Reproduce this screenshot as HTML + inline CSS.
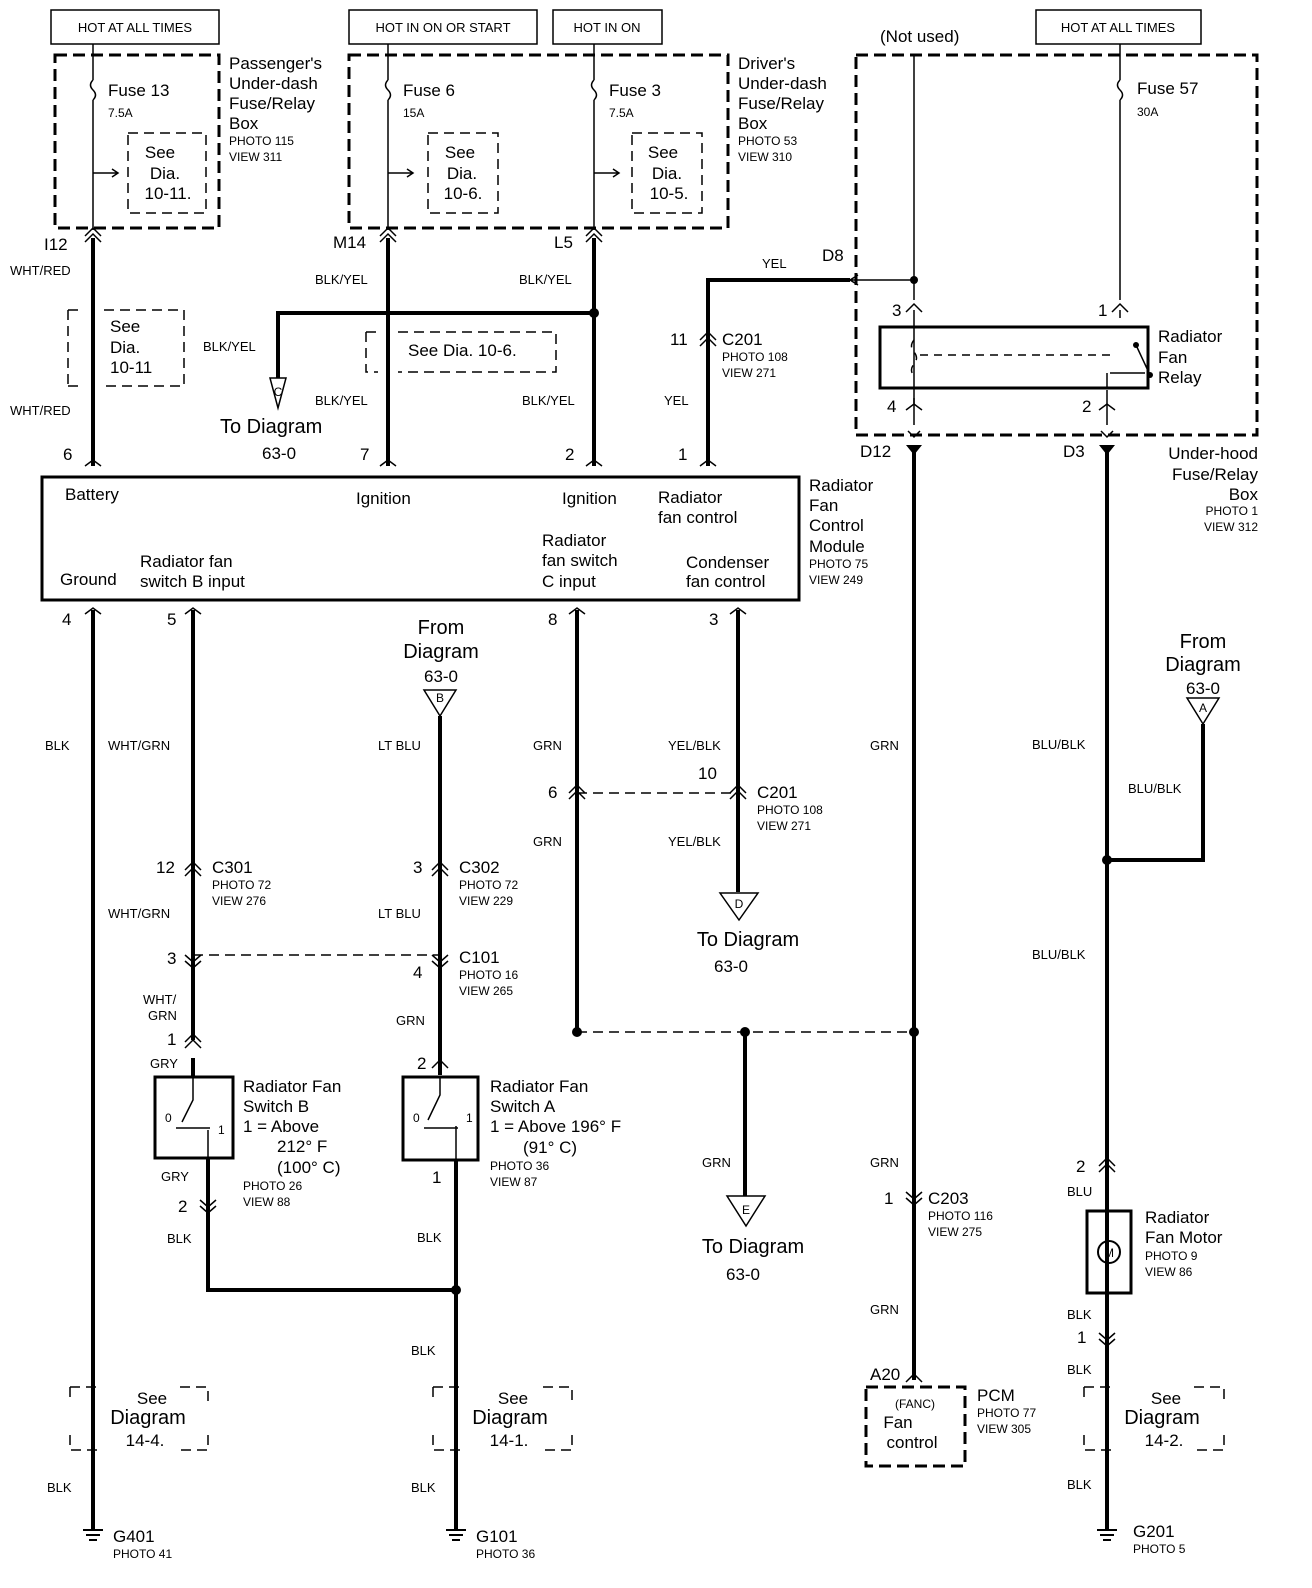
<!DOCTYPE html>
<html><head><meta charset="utf-8"><style>
html,body{margin:0;padding:0;background:#fff}
svg{display:block}
text{font-family:"Liberation Sans",sans-serif;fill:#000}
.s{font-size:13px}.xs{font-size:12px}.m{font-size:17px}.l{font-size:20px}
.w{stroke:#000;stroke-width:4;fill:none}
.t{stroke:#000;stroke-width:1.5;fill:none}
.d{stroke:#000;stroke-width:3;fill:none;stroke-dasharray:12,6}
.dt{stroke:#000;stroke-width:1.5;fill:none;stroke-dasharray:10,6}
</style></head><body>
<svg width="1312" height="1588" viewBox="0 0 1312 1588" xmlns="http://www.w3.org/2000/svg">
<!-- top labels -->
<rect x="51" y="10" width="168" height="34" class="t" stroke-width="2"/><text x="135" y="32" class="s" text-anchor="middle">HOT AT ALL TIMES</text>
<rect x="349" y="10" width="188" height="34" class="t" stroke-width="2"/><text x="443" y="32" class="s" text-anchor="middle">HOT IN ON OR START</text>
<rect x="553" y="10" width="109" height="34" class="t" stroke-width="2"/><text x="607" y="32" class="s" text-anchor="middle">HOT IN ON</text>
<rect x="1036" y="10" width="165" height="34" class="t" stroke-width="2"/><text x="1118" y="32" class="s" text-anchor="middle">HOT AT ALL TIMES</text>
<text x="880" y="42" class="m">(Not used)</text>

<!-- dashed boxes -->
<rect x="55" y="55" width="164" height="173" class="d"/>
<rect x="349" y="55" width="379" height="173" class="d"/>
<path d="M856 55 H1257 V435 H856 Z" class="d"/>

<!-- fuses -->
<g class="t">
<path d="M93 44 V80 M93 80 q-5 5 0 10 q5 5 0 10 M93 100 V230"/>
<path d="M388 44 V80 M388 80 q-5 5 0 10 q5 5 0 10 M388 100 V230"/>
<path d="M594 44 V80 M594 80 q-5 5 0 10 q5 5 0 10 M594 100 V230"/>
<path d="M1120 44 V80 M1120 80 q-5 5 0 10 q5 5 0 10 M1120 100 V300"/>
<path d="M914 55 V300"/>
<path d="M93 173 H118 M112 169 L118 173 L112 177 M388 173 H413 M407 169 L413 173 L407 177 M594 173 H619 M613 169 L619 173 L613 177"/>
</g>
<g class="m">
<text x="108" y="96">Fuse 13</text><text x="108" y="117" class="xs">7.5A</text>
<text x="403" y="96">Fuse 6</text><text x="403" y="117" class="xs">15A</text>
<text x="609" y="96">Fuse 3</text><text x="609" y="117" class="xs">7.5A</text>
<text x="1137" y="94">Fuse 57</text><text x="1137" y="116" class="xs">30A</text>
</g>
<g class="dt">
<rect x="128" y="133" width="78" height="80"/><rect x="428" y="133" width="70" height="80"/><rect x="632" y="133" width="70" height="80"/>
</g>
<g class="m" text-anchor="middle">
<text x="160" y="158">See</text><text x="165" y="179">Dia.</text><text x="168" y="199">10-11.</text>
<text x="460" y="158">See</text><text x="462" y="179">Dia.</text><text x="463" y="199">10-6.</text>
<text x="663" y="158">See</text><text x="667" y="179">Dia.</text><text x="669" y="199">10-5.</text>
</g>
<g class="m"><text x="229" y="69">Passenger's</text><text x="229" y="89">Under-dash</text><text x="229" y="109">Fuse/Relay</text><text x="229" y="129">Box</text></g>
<text x="229" y="145" class="xs">PHOTO 115</text><text x="229" y="161" class="xs">VIEW 311</text>
<g class="m"><text x="738" y="69">Driver's</text><text x="738" y="89">Under-dash</text><text x="738" y="109">Fuse/Relay</text><text x="738" y="129">Box</text></g>
<text x="738" y="145" class="xs">PHOTO 53</text><text x="738" y="161" class="xs">VIEW 310</text>

<!-- connectors at fuse box bottom -->
<g class="t" stroke-width="2">
<path d="M85 242 L93 234 L101 242 M85 236 L93 228 L101 236"/>
<path d="M380 242 L388 234 L396 242 M380 236 L388 228 L396 236"/>
<path d="M586 242 L594 234 L602 242 M586 236 L594 228 L602 236"/>
</g>
<text x="44" y="250" class="m">I12</text><text x="333" y="248" class="m">M14</text><text x="554" y="248" class="m">L5</text>

<!-- main wires top -->
<g class="w">
<path d="M93 238 V466"/><path d="M388 238 V466"/><path d="M594 238 V466"/>
<path d="M278 378 V313 H594"/><path d="M708 466 V280 H850"/>
<path d="M914 445 V1380"/><path d="M1107 445 V1530"/>
</g>
<circle cx="594" cy="313" r="5"/>
<path d="M85 466 L93 460 L101 466" class="t" stroke-width="2"/>
<path d="M380 466 L388 460 L396 466 M586 466 L594 460 L602 466 M700 466 L708 460 L716 466" class="t" stroke-width="2"/>
<path d="M700 346 L708 338 L716 346 M700 340 L708 332 L716 340" class="t" stroke-width="2"/>
<path d="M270 378 H286 L278 408 Z" class="t" stroke-width="2"/><text x="278" y="396" class="xs" text-anchor="middle">C</text>
<g class="s">
<text x="10" y="275">WHT/RED</text><text x="10" y="415">WHT/RED</text>
<text x="315" y="284">BLK/YEL</text><text x="519" y="284">BLK/YEL</text>
<text x="203" y="351">BLK/YEL</text><text x="315" y="405">BLK/YEL</text><text x="522" y="405">BLK/YEL</text>
<text x="762" y="268">YEL</text><text x="664" y="405">YEL</text>
</g>
<text x="822" y="261" class="m">D8</text>
<text x="670" y="345" class="m">11</text><text x="722" y="345" class="m">C201</text>
<text x="722" y="361" class="xs">PHOTO 108</text><text x="722" y="377" class="xs">VIEW 271</text>
<text x="220" y="433" class="l">To Diagram</text><text x="262" y="459" class="m">63-0</text>
<g class="dt">
<path d="M68 310 V386 M68 310 H82 M104 310 H184 V386 H104 M68 386 H82"/>
<path d="M366 332 V372 H378 M398 332 H556 V372 H398 M366 332 H378"/>
</g>
<g class="m"><text x="110" y="332">See</text><text x="110" y="353">Dia.</text><text x="110" y="373">10-11</text><text x="408" y="356">See Dia. 10-6.</text></g>

<!-- relay area -->
<g class="t">
<path d="M850 280 H914 M850 280 L858 275 M850 280 L858 285"/>
<path d="M906 312 L914 304 L922 312"/><path d="M1112 312 L1120 304 L1128 312"/>
<path d="M914 310 V425 M1107 390 V425 M1120 310 V318"/>
<path d="M906 410 L914 404 L922 410 M914 404 V398"/><path d="M1099 410 L1107 404 L1115 410"/>
<path d="M908 431 L914 437 L920 431 M1101 431 L1107 437 L1113 431"/>
<path d="M914 340 q-5 6 0 12 q5 6 0 12 q-5 6 0 12 M920 355 H1110" stroke-dasharray="8,6"/>
<path d="M1136 345 L1150 375 M1107 373 V388 M1110 373 H1145" />
</g>
<circle cx="914" cy="280" r="4"/><circle cx="1136" cy="345" r="3"/><circle cx="1150" cy="375" r="3"/>
<rect x="880" y="327" width="268" height="61" fill="none" stroke="#000" stroke-width="3"/>
<text x="892" y="316" class="m">3</text><text x="1098" y="316" class="m">1</text>
<text x="887" y="412" class="m">4</text><text x="1082" y="412" class="m">2</text>
<g class="m"><text x="1158" y="342">Radiator</text><text x="1158" y="363">Fan</text><text x="1158" y="383">Relay</text></g>
<path d="M906 445 H922 L914 455 Z M1099 445 H1115 L1107 455 Z"/>
<text x="860" y="457" class="m">D12</text><text x="1063" y="457" class="m">D3</text>
<g class="m" text-anchor="end"><text x="1258" y="459">Under-hood</text><text x="1258" y="480">Fuse/Relay</text><text x="1258" y="500">Box</text></g>
<text x="1258" y="515" class="xs" text-anchor="end">PHOTO 1</text><text x="1258" y="531" class="xs" text-anchor="end">VIEW 312</text>

<!-- module -->
<rect x="42" y="477" width="757" height="123" fill="none" stroke="#000" stroke-width="3"/>
<g class="m"><text x="63" y="460">6</text><text x="360" y="460">7</text><text x="565" y="460">2</text><text x="678" y="460">1</text>
<text x="65" y="500">Battery</text><text x="356" y="504">Ignition</text><text x="562" y="504">Ignition</text>
<text x="658" y="503">Radiator</text><text x="658" y="523">fan control</text>
<text x="542" y="546">Radiator</text><text x="542" y="566">fan switch</text><text x="542" y="587">C input</text>
<text x="686" y="568">Condenser</text><text x="686" y="587">fan control</text>
<text x="60" y="585">Ground</text><text x="140" y="567">Radiator fan</text><text x="140" y="587">switch B input</text>
<text x="809" y="491">Radiator</text><text x="809" y="511">Fan</text><text x="809" y="531">Control</text><text x="809" y="552">Module</text></g>
<text x="809" y="568" class="xs">PHOTO 75</text><text x="809" y="584" class="xs">VIEW 249</text>
<g class="m"><text x="62" y="625">4</text><text x="167" y="625">5</text><text x="548" y="625">8</text><text x="709" y="625">3</text></g>
<g class="t" stroke-width="2"><path d="M85 614 L93 608 L101 614 M185 614 L193 608 L201 614 M569 614 L577 608 L585 614 M730 614 L738 608 L746 614"/></g>

<!-- lower wires -->
<g class="w">
<path d="M93 610 V1530"/><path d="M193 610 V1040"/><path d="M193 1058 V1077"/>
<path d="M208 1158 V1290 H456"/><path d="M440 716 V1075"/><path d="M456 1160 V1530"/>
<path d="M577 610 V1032"/><path d="M738 610 V892"/><path d="M745 1032 V1196"/>
<path d="M1203 724 V860 H1107"/>
</g>
<circle cx="456" cy="1290" r="5"/><circle cx="1107" cy="860" r="5"/>
<circle cx="577" cy="1032" r="5"/><circle cx="745" cy="1032" r="5"/><circle cx="914" cy="1032" r="5"/>
<g class="dt"><path d="M577 1032 H914"/><path d="M577 793 H738"/><path d="M193 955 H440"/></g>

<!-- inline connectors -->
<g class="t" stroke-width="2">
<path d="M185 870 L193 862 L201 870 M185 876 L193 868 L201 876"/>
<path d="M432 870 L440 862 L448 870 M432 876 L440 868 L448 876"/>
<path d="M185 955 L193 962 L201 955 M185 961 L193 968 L201 961"/>
<path d="M432 955 L440 962 L448 955 M432 961 L440 968 L448 961"/>
<path d="M185 1042 L193 1034 L201 1042 M185 1048 L193 1040 L201 1048"/>
<path d="M432 1068 L440 1060 L448 1068"/>
<path d="M569 793 L577 785 L585 793 M569 799 L577 791 L585 799"/>
<path d="M730 793 L738 785 L746 793 M730 799 L738 791 L746 799"/>
<path d="M200 1200 L208 1207 L216 1200 M200 1206 L208 1213 L216 1206"/>
<path d="M906 1192 L914 1199 L922 1192 M906 1198 L914 1205 L922 1198"/>
<path d="M1099 1166 L1107 1158 L1115 1166 M1099 1172 L1107 1164 L1115 1172"/>
<path d="M1099 1333 L1107 1340 L1115 1333 M1099 1339 L1107 1346 L1115 1339"/>
<path d="M906 1382 L914 1374 L922 1382"/>
</g>

<!-- triangles -->
<g class="t" stroke-width="2">
<path d="M424 690 H456 L440 716 Z"/><path d="M1187 698 H1219 L1203 724 Z"/>
<path d="M720 893 H758 L739 920 Z"/><path d="M727 1196 H765 L746 1226 Z"/>
</g>
<g class="xs" text-anchor="middle"><text x="440" y="702">B</text><text x="1203" y="712">A</text><text x="739" y="908">D</text><text x="746" y="1214">E</text></g>
<g class="l" text-anchor="middle">
<text x="441" y="634">From</text><text x="441" y="658">Diagram</text><text x="441" y="682" class="m">63-0</text>
<text x="1203" y="648">From</text><text x="1203" y="671">Diagram</text><text x="1203" y="694" class="m">63-0</text>
<text x="748" y="946">To Diagram</text><text x="731" y="972" class="m">63-0</text>
<text x="753" y="1253">To Diagram</text><text x="743" y="1280" class="m">63-0</text>
</g>

<!-- wire colors lower -->
<g class="s">
<text x="45" y="750">BLK</text><text x="108" y="750">WHT/GRN</text><text x="378" y="750">LT BLU</text>
<text x="533" y="750">GRN</text><text x="668" y="750">YEL/BLK</text><text x="870" y="750">GRN</text>
<text x="1032" y="749">BLU/BLK</text><text x="1128" y="793">BLU/BLK</text>
<text x="533" y="846">GRN</text><text x="668" y="846">YEL/BLK</text>
<text x="108" y="918">WHT/GRN</text><text x="378" y="918">LT BLU</text>
<text x="1032" y="959">BLU/BLK</text>
<text x="143" y="1004">WHT/</text><text x="148" y="1020">GRN</text><text x="396" y="1025">GRN</text>
<text x="150" y="1068">GRY</text><text x="161" y="1181">GRY</text>
<text x="167" y="1243">BLK</text><text x="417" y="1242">BLK</text>
<text x="702" y="1167">GRN</text><text x="870" y="1167">GRN</text><text x="870" y="1314">GRN</text>
<text x="1067" y="1196">BLU</text><text x="1067" y="1319">BLK</text><text x="1067" y="1374">BLK</text><text x="1067" y="1489">BLK</text>
<text x="411" y="1355">BLK</text><text x="411" y="1492">BLK</text><text x="47" y="1492">BLK</text>
</g>
<g class="m">
<text x="698" y="779">10</text><text x="757" y="798">C201</text><text x="548" y="798">6</text>
<text x="156" y="873">12</text><text x="212" y="873">C301</text>
<text x="413" y="873">3</text><text x="459" y="873">C302</text>
<text x="167" y="964">3</text><text x="413" y="978">4</text><text x="459" y="963">C101</text>
<text x="167" y="1045">1</text><text x="417" y="1069">2</text>
<text x="432" y="1183">1</text><text x="178" y="1212">2</text>
<text x="884" y="1204">1</text><text x="928" y="1204">C203</text>
<text x="1076" y="1172">2</text><text x="1077" y="1343">1</text>
<text x="870" y="1380">A20</text>
</g>
<g class="xs">
<text x="757" y="814">PHOTO 108</text><text x="757" y="830">VIEW 271</text>
<text x="212" y="889">PHOTO 72</text><text x="212" y="905">VIEW 276</text>
<text x="459" y="889">PHOTO 72</text><text x="459" y="905">VIEW 229</text>
<text x="459" y="979">PHOTO 16</text><text x="459" y="995">VIEW 265</text>
<text x="928" y="1220">PHOTO 116</text><text x="928" y="1236">VIEW 275</text>
</g>

<!-- switches -->
<rect x="155" y="1077" width="78" height="81" fill="none" stroke="#000" stroke-width="3"/>
<rect x="403" y="1077" width="75" height="83" fill="none" stroke="#000" stroke-width="3"/>
<g class="t"><path d="M193 1077 V1100 L182 1122 M208 1130 V1158 M176 1128 H210"/>
<path d="M440 1077 V1095 L428 1120 M456 1126 V1160 M424 1128 H458"/></g>
<text x="165" y="1122" class="xs">0</text><text x="218" y="1134" class="xs">1</text>
<text x="413" y="1122" class="xs">0</text><text x="466" y="1122" class="xs">1</text>
<g class="m"><text x="243" y="1092">Radiator Fan</text><text x="243" y="1112">Switch B</text><text x="243" y="1132">1 = Above</text><text x="277" y="1152">212° F</text><text x="277" y="1173">(100° C)</text></g>
<text x="243" y="1190" class="xs">PHOTO 26</text><text x="243" y="1206" class="xs">VIEW 88</text>
<g class="m"><text x="490" y="1092">Radiator Fan</text><text x="490" y="1112">Switch A</text><text x="490" y="1132">1 = Above 196° F</text><text x="523" y="1153">(91° C)</text></g>
<text x="490" y="1170" class="xs">PHOTO 36</text><text x="490" y="1186" class="xs">VIEW 87</text>

<!-- motor -->
<rect x="1087" y="1211" width="44" height="82" fill="none" stroke="#000" stroke-width="3"/>
<circle cx="1109" cy="1252" r="11" fill="none" stroke="#000" stroke-width="2"/><text x="1109" y="1257" class="xs" text-anchor="middle">M</text>
<g class="m"><text x="1145" y="1223">Radiator</text><text x="1145" y="1243">Fan Motor</text></g>
<text x="1145" y="1260" class="xs">PHOTO 9</text><text x="1145" y="1276" class="xs">VIEW 86</text>

<!-- PCM -->
<rect x="866" y="1387" width="99" height="79" class="d"/>
<text x="915" y="1408" class="xs" text-anchor="middle">(FANC)</text>
<text x="898" y="1428" class="m" text-anchor="middle">Fan</text><text x="912" y="1448" class="m" text-anchor="middle">control</text>
<text x="977" y="1401" class="m">PCM</text><text x="977" y="1417" class="xs">PHOTO 77</text><text x="977" y="1433" class="xs">VIEW 305</text>

<!-- see diagram boxes bottom -->
<g class="dt">
<path d="M70 1387 V1401 M70 1387 H100 M180 1387 H208 V1401 M70 1435 V1450 H100 M208 1435 V1450 H180"/>
<path d="M433 1387 V1401 M433 1387 H463 M543 1387 H572 V1401 M433 1435 V1450 H463 M572 1435 V1450 H543"/>
<path d="M1084 1387 V1401 M1084 1387 H1114 M1194 1387 H1224 V1401 M1084 1435 V1450 H1114 M1224 1435 V1450 H1194"/>
</g>
<g class="m" text-anchor="middle">
<text x="152" y="1404">See</text><text x="148" y="1424" class="l">Diagram</text><text x="145" y="1446">14-4.</text>
<text x="513" y="1404">See</text><text x="510" y="1424" class="l">Diagram</text><text x="509" y="1446">14-1.</text>
<text x="1166" y="1404">See</text><text x="1162" y="1424" class="l">Diagram</text><text x="1164" y="1446">14-2.</text>
</g>

<!-- grounds -->
<g stroke="#000" stroke-width="2">
<path d="M83 1530 H103 M86 1535 H100 M89 1540 H97"/>
<path d="M446 1530 H466 M449 1535 H463 M452 1540 H460"/>
<path d="M1097 1530 H1117 M1100 1535 H1114 M1103 1540 H1111"/>
</g>
<text x="113" y="1542" class="m">G401</text><text x="113" y="1558" class="xs">PHOTO 41</text>
<text x="476" y="1542" class="m">G101</text><text x="476" y="1558" class="xs">PHOTO 36</text>
<text x="1133" y="1537" class="m">G201</text><text x="1133" y="1553" class="xs">PHOTO 5</text>
</svg>
</body></html>
